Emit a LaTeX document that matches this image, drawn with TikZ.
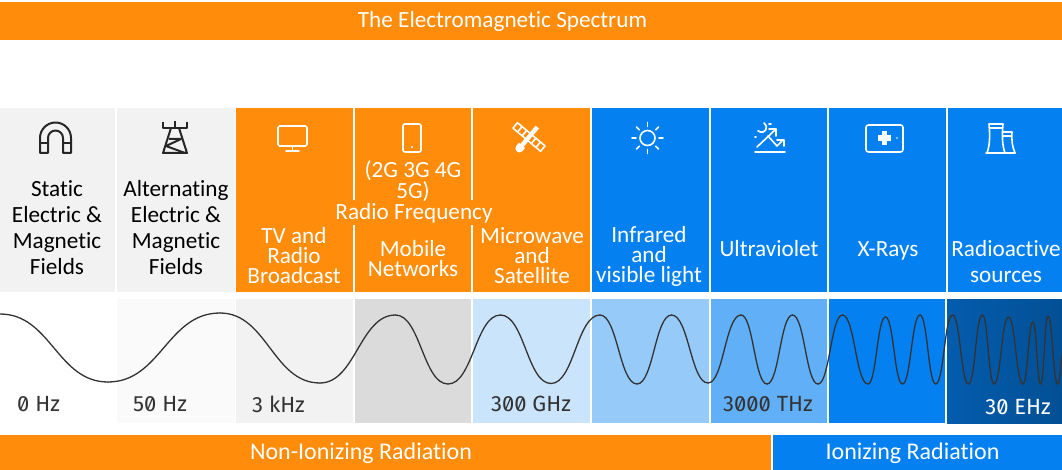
\documentclass[tikz,border=0pt]{standalone}
\usepackage{fontspec}
\setmainfont[Ligatures=NoCommon]{Carlito}
\newfontfamily\hzfont[RawFeature={+zero}]{Fira Sans}
\definecolor{bandorange}{HTML}{FF8C0A}
\definecolor{bandblue}{HTML}{0580F0}
\definecolor{cellgray}{HTML}{F2F2F2}
\tikzset{
  labeltext/.style={align=center,inner sep=0pt,font=\fontsize{23.2}{26}\selectfont},
  tighttext/.style={align=center,inner sep=0pt,font=\fontsize{23.2}{20}\selectfont},
  bartext/.style={inner sep=0pt,text=white,font=\fontsize{24}{26}\selectfont},
  whitetext/.style={text=white},
  hztext/.style={inner sep=0pt,font=\hzfont\fontsize{22}{26}\selectfont,text=black!80},
  icondark/.style={draw=black!85,line width=2pt,line join=round},
  iconlight/.style={draw=white,line width=1.6pt,line join=round,line cap=round},
  wave/.style={draw=black!80,line width=1.3pt,line cap=round}
}
\begin{document}
\begin{tikzpicture}[x=1pt,y=1pt]
\useasboundingbox (0,0) rectangle (1062,-470);

% top and bottom bars
\fill[bandorange] (0,-2) rectangle (1062,-40);
\fill[bandorange] (0,-435) rectangle (771,-470);
\fill[bandblue] (773,-435) rectangle (1062,-470);
\node[labeltext,whitetext] (title) at (502.5,-21) {The Electromagnetic Spectrum};
\node[bartext] (nonion) at (361,-453) {Non-Ionizing Radiation};
\node[bartext] (ion) at (912.5,-453) {Ionizing Radiation};

% upper row
\fill[cellgray] (0,-108) rectangle (115,-292);
\fill[cellgray] (117,-108) rectangle (234.5,-292);
\fill[bandorange] (236,-108) rectangle (590,-292);
\draw[white,line width=2pt] (354,-108) -- (354,-200) (354,-225) -- (354,-292);
\draw[white,line width=2pt] (472,-108) -- (472,-200) (472,-225) -- (472,-292);
\fill[bandblue] (592,-108) rectangle (709,-292);
\fill[bandblue] (711,-108) rectangle (827,-292);
\fill[bandblue] (829,-108) rectangle (946,-292);
\fill[bandblue] (948,-108) rectangle (1062,-292);

\node[labeltext] (static) at (57,-228) {Static\\Electric \&\\Magnetic\\Fields};
\node[labeltext] (alternating) at (176,-228) {Alternating\\Electric \&\\Magnetic\\Fields};
\node[tighttext,whitetext] (tv) at (294,-256) {TV and\\Radio\\Broadcast};
\node[tighttext,whitetext] (gens) at (413,-181) {(2G 3G 4G\\5G)};
\node[tighttext,whitetext] (radio) at (414,-213) {Radio Frequency};
\node[tighttext,whitetext] (mobile) at (413,-259) {Mobile\\Networks};
\node[tighttext,whitetext] (micro) at (532,-256) {Microwave\\and\\Satellite};
\node[tighttext,whitetext] (infra) at (649,-256) {Infrared\\and\\visible light};
\node[tighttext,whitetext] (uv) at (769,-249) {Ultraviolet};
\node[tighttext,whitetext] (xray) at (888,-251) {X-Rays};
\node[labeltext,whitetext] (radioactive) at (1006,-262) {Radioactive\\sources};

% magnet
\draw[icondark] (40,-153) -- (40,-138) arc (180:0:15.5) -- (71,-153) -- (63,-153) -- (63,-138) arc (0:180:7.5) -- (48,-153) -- cycle;
\draw[icondark] (40,-143) -- (48,-143) (63,-143) -- (71,-143);
% tower
\draw[icondark] (163,-122) -- (163,-128) -- (187,-128) -- (187,-122) (175,-121) -- (175,-128);
\draw[icondark] (171,-128) -- (163,-153) -- (187,-153) -- (179,-128);
\draw[icondark] (169,-139) -- (181,-139) -- (166,-146) -- (185,-153);
% screen
\draw[iconlight,rounded corners=1.5pt] (278,-126) rectangle (307,-146);
\draw[iconlight] (292.5,-146) -- (292.5,-151) (286,-151) -- (299,-151);
% phone
\draw[iconlight,rounded corners=2pt] (403,-124) rectangle (421,-152);
\fill[white] (412,-147) circle (1.2);
% satellite
\begin{scope}[shift={(529,-137)},rotate=-40]
\draw[iconlight] (-18,-3.5) rectangle (18,3.5);
\draw[iconlight] (-12,-3.5) -- (-12,3.5) (-6,-3.5) -- (-6,3.5) (6,-3.5) -- (6,3.5) (12,-3.5) -- (12,3.5);
\end{scope}
\begin{scope}[shift={(529,-137)},rotate=50]
\fill[white] (-11,-2.2) rectangle (13,2.2);
\fill[white] (-15,-4) -- (-11,-4) -- (-11,4) -- (-15,4) arc (90:270:4);
\end{scope}
% sun
\draw[iconlight] (647.5,-138) circle (7.5);
\foreach \ang in {0,45,...,315}
  \draw[iconlight] ([shift={(\ang:11.5)}]647.5,-138) -- ([shift={(\ang:15.5)}]647.5,-138);
% ultraviolet
\draw[iconlight] (755,-152) -- (785,-152);
\draw[iconlight] (757,-147) -- (776,-129) (769,-129) -- (776,-129) -- (776,-136);
\draw[iconlight] (768,-136) -- (777,-146) -- (782,-141) (777,-140) -- (784,-140) -- (784,-146);
\draw[iconlight] (764,-123) arc (60:-110:5);
\draw[iconlight] (755,-137) -- (756,-137) (758,-131) -- (759,-131) (769,-124) -- (771,-124);
% x-ray box
\draw[iconlight,rounded corners=2.5pt,line width=1.6pt] (866,-125) rectangle (903,-152);
\fill[white] (881.5,-145) rectangle (887,-131);
\fill[white] (877.5,-141) rectangle (891,-135.5);
\fill[white] (897,-138) circle (0.8);
% cooling towers
\draw[iconlight] (986,-153) -- (1015,-153);
\draw[iconlight] (987,-153) .. controls (990,-145) and (990,-135) .. (989,-124) -- (1003,-124) .. controls (1002,-135) and (1002,-145) .. (1005,-153);
\draw[iconlight] (989.5,-128) -- (1002.5,-128);
\draw[iconlight] (1003,-132) -- (1012,-132) .. controls (1011.5,-140) and (1012,-146) .. (1015,-153);
\draw[iconlight] (1003,-136) -- (1011.5,-136);

% lower row
\fill[black!2] (117,-299) rectangle (235,-423);
\fill[cellgray] (236,-299) rectangle (353,-423);
\fill[black!14] (355,-299) rectangle (471,-423);
\fill[bandblue!21!white] (473,-299) rectangle (590,-423);
\fill[bandblue!42!white] (592,-299) rectangle (709,-423);
\fill[bandblue!63!white] (711,-299) rectangle (827,-423);
\fill[bandblue] (829,-299) rectangle (945,-423);
\shade[left color=bandblue!72!black,right color=bandblue!62!black] (947,-299) rectangle (1062,-423);

\node[hztext,anchor=west] (zero) at (17,-404) {0 Hz};
\node[hztext,anchor=west] (fifty) at (133,-404) {50 Hz};
\node[hztext,anchor=west] (khz) at (252,-404) {3 kHz};
\node[hztext] (ghz) at (531,-404) {300 GHz};
\node[hztext] (thz) at (768,-404) {3000 THz};
\node[hztext,text=white] (ehz) at (1018,-407) {30 EHz};

% wave
\foreach \px/\py [remember=\px as \lastx (initially 0),remember=\py as \lasty (initially -314)] in
  {108/-382,220/-313,320/-383,395.5/-315,448/-384,500.5/-315,551/-383.5,600/-315,637/-384,
   671.5/-315,708/-383,741/-315,767/-384,792.5/-315,818/-384,842.5/-315,868/-384,885.5/-317,
   902.5/-384,920/-315,935.7/-384,952.6/-315,968.5/-384,982.4/-315,994/-384,1008.5/-317,
   1023/-384,1033/-322,1040.6/-384,1048/-316,1057.6/-384,1064/-350}
{
  \pgfmathsetmacro{\cone}{\lastx+0.47*(\px-\lastx)}
  \pgfmathsetmacro{\ctwo}{\px-0.47*(\px-\lastx)}
  \draw[wave] (\lastx,\lasty) .. controls (\cone,\lasty) and (\ctwo,\py) .. (\px,\py);
}
\end{tikzpicture}
\end{document}
